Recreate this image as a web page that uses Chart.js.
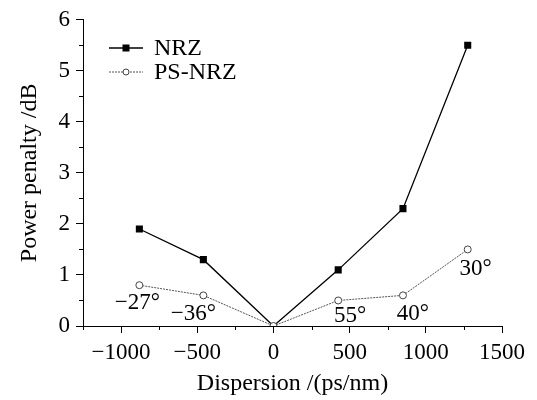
<!DOCTYPE html>
<html>
<head>
<meta charset="utf-8">
<script src="https://cdn.jsdelivr.net/npm/chart.js@4"></script>
<style>
  html, body { margin: 0; padding: 0; background: #fff; }
  #wrap { width: 537px; height: 400px; }
</style>
</head>
<body>
<div id="wrap"><canvas id="penaltyChart"></canvas></div>
<script>
const dispersion = [-880, -460, 0, 425, 850, 1275];
const nrz = [1.9, 1.3, 0, 1.1, 2.3, 5.5];
const psNrz = [0.8, 0.6, 0, 0.5, 0.6, 1.5];
const angleLabels = ['\u221227\u00b0', '\u221236\u00b0', '', '55\u00b0', '40\u00b0', '30\u00b0'];
const xTicks = [-1000, -500, 0, 500, 1000, 1500];
const xMinor = [-1250, -750, -250, 250, 750, 1250];
const yTicks = [0, 1, 2, 3, 4, 5, 6];
const yMinor = [0.5, 1.5, 2.5, 3.5, 4.5, 5.5];

const serif = "'Liberation Serif', 'Times New Roman', serif";

// pixel offsets of the angle labels from their points
const labelOffsets = [[-2, 18], [-10, 19], [0, 0], [12, 15], [10, 19], [8, 20]];

const extras = {
    id: 'extras',
    afterDraw(chart) {
        const c = chart.ctx;
        const xs = chart.scales.x, ys = chart.scales.y;
        c.save();
        c.strokeStyle = '#000';
        c.lineWidth = 1;
        // minor ticks
        c.beginPath();
        xMinor.forEach(v => {
            const px = Math.round(xs.getPixelForValue(v)) + 0.5;
            c.moveTo(px, ys.bottom);
            c.lineTo(px, ys.bottom + 4);
        });
        yMinor.forEach(v => {
            const py = Math.round(ys.getPixelForValue(v)) + 0.5;
            c.moveTo(xs.left, py);
            c.lineTo(xs.left - 4, py);
        });
        c.stroke();

        // angle labels
        c.fillStyle = '#000';
        c.font = '23px ' + serif;
        c.textAlign = 'center';
        c.textBaseline = 'middle';
        dispersion.forEach((d, i) => {
            if (!angleLabels[i]) return;
            const px = xs.getPixelForValue(d) + labelOffsets[i][0];
            const py = ys.getPixelForValue(psNrz[i]) + labelOffsets[i][1];
            c.fillText(angleLabels[i], px, py);
        });

        // legend
        const items = chart.data.datasets;
        c.textAlign = 'left';
        c.font = '24px ' + serif;
        items.forEach((ds, i) => {
            const y = 48 + i * 24;
            c.beginPath();
            c.strokeStyle = ds.borderColor;
            c.lineWidth = ds.borderWidth;
            c.setLineDash(ds.borderDash || []);
            c.moveTo(109, y);
            c.lineTo(143, y);
            c.stroke();
            c.setLineDash([]);
            c.lineWidth = 1;
            if (ds.pointStyle === 'rect') {
                c.fillStyle = '#000';
                c.fillRect(126 - 3.5, y - 3.5, 7, 7);
            } else {
                c.beginPath();
                c.fillStyle = '#fff';
                c.strokeStyle = '#444';
                c.arc(126, y, 3, 0, Math.PI * 2);
                c.fill();
                c.stroke();
            }
            c.fillStyle = '#000';
            c.fillText(ds.label, 154, y + 1);
        });
        c.restore();
    }
};

new Chart(document.getElementById('penaltyChart'), {
    type: 'line',
    data: {
        datasets: [{
            label: 'NRZ',
            data: dispersion.map((d, i) => ({ x: d, y: nrz[i] })),
            borderColor: '#000',
            borderWidth: 1.3,
            backgroundColor: '#000',
            pointStyle: 'rect',
            pointRadius: ctx => (ctx.raw && ctx.raw.x === 0 ? 0 : 5),
            pointBorderWidth: 0,
            tension: 0,
            order: 2
        }, {
            label: 'PS-NRZ',
            data: dispersion.map((d, i) => ({ x: d, y: psNrz[i] })),
            borderColor: '#555',
            borderWidth: 1,
            borderDash: [2, 1],
            backgroundColor: '#fff',
            pointStyle: 'circle',
            pointRadius: 3.5,
            pointBorderWidth: 1,
            pointBorderColor: '#444',
            tension: 0,
            order: 1
        }]
    },
    options: {
        responsive: true,
        maintainAspectRatio: false,
        animation: false,
        layout: { padding: { top: 18, right: 35, left: 0, bottom: 0 } },
        plugins: {
            legend: { display: false },
            tooltip: { enabled: false }
        },
        scales: {
            x: {
                type: 'linear',
                min: -1250,
                max: 1500,
                afterBuildTicks: s => { s.ticks = xTicks.map(v => ({ value: v })); },
                afterFit: s => { s.height = 74; },
                grid: { drawOnChartArea: false, tickLength: 7, color: '#000', tickColor: '#000' },
                border: { color: '#000', width: 1 },
                ticks: {
                    color: '#000',
                    font: { family: serif, size: 23 },
                    padding: 6,
                    maxRotation: 0,
                    callback: v => (v < 0 ? '\u2212' + Math.abs(v) : String(v))
                },
                title: {
                    display: true,
                    text: 'Dispersion /(ps/nm)',
                    color: '#000',
                    font: { family: serif, size: 24 },
                    padding: { top: 2, bottom: 2 }
                }
            },
            y: {
                min: 0,
                max: 6,
                afterBuildTicks: s => { s.ticks = yTicks.map(v => ({ value: v })); },
                afterFit: s => { s.width = 83; },
                grid: { drawOnChartArea: false, tickLength: 7, color: '#000', tickColor: '#000' },
                border: { color: '#000', width: 1 },
                ticks: {
                    color: '#000',
                    font: { family: serif, size: 23 },
                    padding: 6
                },
                title: {
                    display: true,
                    text: 'Power penalty /dB',
                    color: '#000',
                    font: { family: serif, size: 24 },
                    padding: { top: 15, bottom: 6 }
                }
            }
        }
    },
    plugins: [extras]
});
</script>
</body>
</html>
